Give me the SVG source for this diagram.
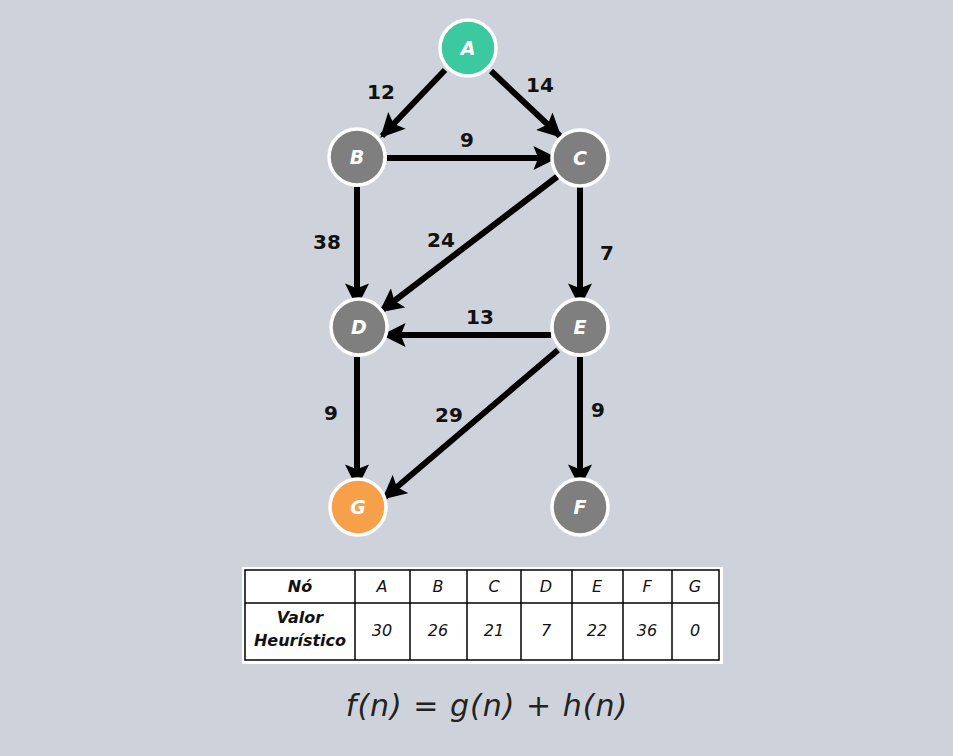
<svg xmlns="http://www.w3.org/2000/svg" width="953" height="756" viewBox="0 0 953 756">
<style>
.n{stroke:#fff;stroke-width:3.5}
.gray{fill:#7f7f7f}
.nl{font-family:"DejaVu Sans",sans-serif;font-weight:bold;font-style:italic;font-size:19px;fill:#fff;text-anchor:middle}
.e{stroke:#000;stroke-width:6;fill:none;marker-end:url(#ah)}
.el{font-family:"DejaVu Sans",sans-serif;font-weight:bold;font-size:20px;fill:#111;text-anchor:middle}
.t{font-family:"DejaVu Sans",sans-serif;font-style:italic;font-size:16px;fill:#111;text-anchor:middle}
.tb{font-family:"DejaVu Sans",sans-serif;font-weight:bold;font-style:italic;font-size:16px;fill:#111;text-anchor:middle}
.gl{stroke:#000;stroke-width:1.5}
</style>
<defs>
<marker id="ah" viewBox="0 0 10 10" refX="9" refY="5" markerWidth="4.2" markerHeight="4" orient="auto" markerUnits="strokeWidth">
<path d="M0,0 L10,5 L0,10 L2,5 Z" fill="#000"/>
</marker>
</defs>
<rect width="953" height="756" fill="#ced3db"/>
<g id="connectors">
<line class="e" x1="445" y1="70" x2="382" y2="136"/>
<line class="e" x1="491" y1="71" x2="560" y2="136"/>
<line class="e" x1="387" y1="158" x2="555" y2="158"/>
<line class="e" x1="357" y1="187" x2="357" y2="305"/>
<line class="e" x1="558" y1="176" x2="381" y2="311"/>
<line class="e" x1="580" y1="186" x2="580" y2="305"/>
<line class="e" x1="551" y1="335" x2="384" y2="335"/>
<line class="e" x1="357" y1="357" x2="357" y2="486"/>
<line class="e" x1="558" y1="350" x2="384" y2="498"/>
<line class="e" x1="580" y1="357" x2="580" y2="486"/>
<text class="el" x="381" y="99">12</text>
<text class="el" x="540" y="92">14</text>
<text class="el" x="467" y="147">9</text>
<text class="el" x="327" y="249">38</text>
<text class="el" x="441" y="247">24</text>
<text class="el" x="607" y="260">7</text>
<text class="el" x="480" y="324">13</text>
<text class="el" x="331" y="420">9</text>
<text class="el" x="449" y="422">29</text>
<text class="el" x="598" y="417">9</text>
</g>
<g id="node-A"><circle class="n" cx="468" cy="48" r="28" fill="#3cc9a0"/><text class="nl" x="468" y="55">A</text></g>
<g id="node-B"><circle class="n gray" cx="357" cy="157" r="28"/><text class="nl" x="357" y="164">B</text></g>
<g id="node-C"><circle class="n gray" cx="580" cy="158" r="28"/><text class="nl" x="580" y="165">C</text></g>
<g id="node-D"><circle class="n gray" cx="359" cy="327" r="28"/><text class="nl" x="359" y="334">D</text></g>
<g id="node-E"><circle class="n gray" cx="580" cy="327" r="28"/><text class="nl" x="580" y="334">E</text></g>
<g id="node-G"><circle class="n" cx="358" cy="507" r="28" fill="#f6a04a"/><text class="nl" x="358" y="514">G</text></g>
<g id="node-F"><circle class="n gray" cx="580" cy="507" r="28"/><text class="nl" x="580" y="514">F</text></g>
<g id="table">
<rect x="242" y="567" width="481" height="97" fill="#fff"/>
<rect x="245" y="570" width="474" height="90" fill="#fff" stroke="#000" stroke-width="1.5"/>
<line class="gl" x1="245" y1="603" x2="719" y2="603"/>
<line class="gl" x1="355" y1="570" x2="355" y2="660"/>
<line class="gl" x1="410" y1="570" x2="410" y2="660"/>
<line class="gl" x1="467" y1="570" x2="467" y2="660"/>
<line class="gl" x1="521" y1="570" x2="521" y2="660"/>
<line class="gl" x1="572" y1="570" x2="572" y2="660"/>
<line class="gl" x1="623" y1="570" x2="623" y2="660"/>
<line class="gl" x1="672" y1="570" x2="672" y2="660"/>
<text class="tb" x="300" y="592">Nó</text>
<text class="t" x="382" y="592">A</text>
<text class="t" x="438" y="592">B</text>
<text class="t" x="494" y="592">C</text>
<text class="t" x="546" y="592">D</text>
<text class="t" x="597" y="592">E</text>
<text class="t" x="647" y="592">F</text>
<text class="t" x="695" y="592">G</text>
<text class="tb" x="300" y="623">Valor</text>
<text class="tb" x="300" y="646">Heurístico</text>
<text class="t" x="382" y="636">30</text>
<text class="t" x="438" y="636">26</text>
<text class="t" x="494" y="636">21</text>
<text class="t" x="546" y="636">7</text>
<text class="t" x="597" y="636">22</text>
<text class="t" x="647" y="636">36</text>
<text class="t" x="695" y="636">0</text>
</g>
<text x="487" y="716" font-family="DejaVu Sans, sans-serif" font-style="italic" font-size="30" letter-spacing="1" fill="#222" text-anchor="middle">f(n) = g(n) + h(n)</text>
</svg>
